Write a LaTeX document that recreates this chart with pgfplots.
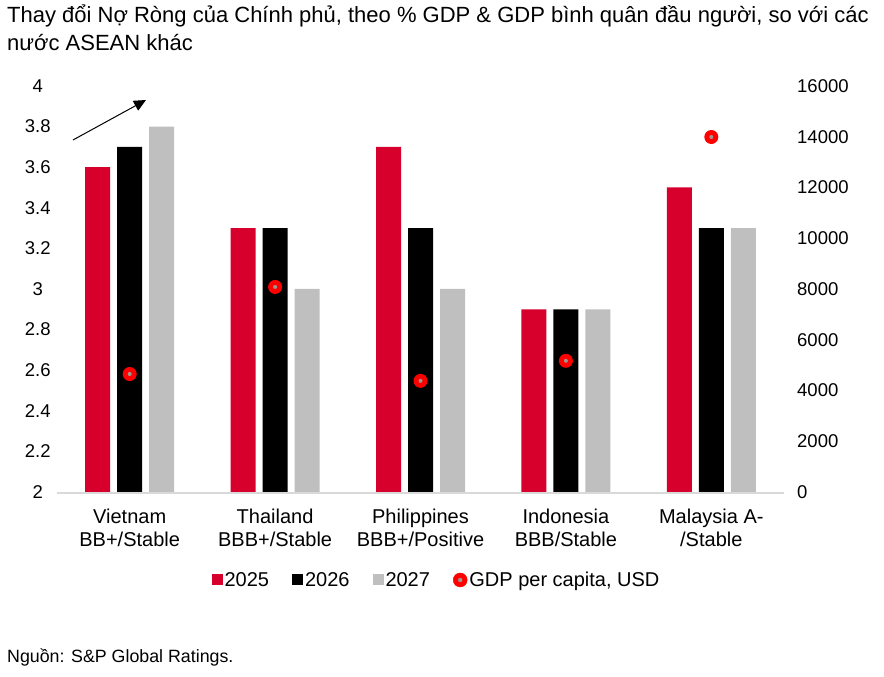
\documentclass[border=0pt]{standalone}
\usepackage{fontspec}
\setmainfont{Liberation Sans}
\usepackage{pgfplots}
\pgfplotsset{compat=1.18}
\usetikzlibrary{arrows.meta}

\definecolor{barRed}{RGB}{215,0,45}
\definecolor{barGray}{RGB}{191,191,191}
\definecolor{axGray}{RGB}{217,217,217}
\definecolor{dotRed}{RGB}{255,0,0}
\definecolor{dotCore}{RGB}{160,150,140}

\newcommand{\chartfont}{\fontsize{18.5}{23}\selectfont}
\newcommand{\catfont}{\fontsize{20}{23}\selectfont}
\newcommand{\titlefont}{\fontsize{22}{28}\selectfont}

% red dot with a small grey core, as in the source chart
\pgfdeclareplotmark{gdpdot}{%
  \pgfsetfillcolor{dotRed}\pgfpathcircle{\pgfpointorigin}{7pt}\pgfusepath{fill}%
  \pgfsetfillcolor{dotCore}\pgfpathcircle{\pgfpointorigin}{2pt}\pgfusepath{fill}}

\begin{document}
\begin{tikzpicture}
\path (0,0) rectangle (884pt,677pt);

\pgfplotsset{
  base/.style={
    at={(57pt,185pt)}, anchor=south west,
    width=727pt, height=406pt, scale only axis,
    xmin=-0.5, xmax=4.5,
    major tick length=0pt,
    tick label style={font=\chartfont},
    /pgf/number format/assume math mode=true,
    /pgf/number format/1000 sep={},
    scaled y ticks=false,
    clip=false,
  }
}

%------------------------------------------------
% bars, left axis
%------------------------------------------------
\begin{axis}[
    base,
    ymin=2, ymax=4,
    ytick={2,2.2,2.4,2.6,2.8,3,3.2,3.4,3.6,3.8,4},
    yticklabel style={text width=32pt, align=center, inner sep=0pt, xshift=-3pt},
    xtick={0,1,2,3,4},
    xticklabels={{Vietnam\\BB+/Stable},{Thailand\\BBB+/Stable},{Philippines\\BBB+/Positive},{Indonesia\\BBB/Stable},{Malaysia A-\\/Stable}},
    xticklabel style={font=\catfont, align=center, inner sep=0pt, yshift=-17pt},
    axis line style={draw=none},
    ybar=7pt, bar width=25pt,
    legend columns=4,
    legend style={at={(0.522,-0.2167)}, anchor=center, draw=none, fill=none,
      font=\catfont, inner sep=0pt,
      /tikz/every even column/.append style={column sep=21pt}},
    legend cell align=left,
]
\addplot[fill=barRed, draw=none,
  legend image code/.code={\fill[barRed] (0pt,-5.5pt) rectangle (11pt,5.5pt);}]
  coordinates {(0,3.6) (1,3.3) (2,3.7) (3,2.9) (4,3.5)};
\addplot[fill=black, draw=none,
  legend image code/.code={\fill[black] (0pt,-5.5pt) rectangle (11pt,5.5pt);}]
  coordinates {(0,3.7) (1,3.3) (2,3.3) (3,2.9) (4,3.3)};
\addplot[fill=barGray, draw=none,
  legend image code/.code={\fill[barGray] (0pt,-5.5pt) rectangle (11pt,5.5pt);}]
  coordinates {(0,3.8) (1,3.0) (2,3.0) (3,2.9) (4,3.3)};
\addlegendimage{legend image code/.code={%
  \fill[dotRed] (7pt,0pt) circle (7pt); \fill[dotCore] (7pt,0pt) circle (2pt);}}
\legend{2025,2026,2027,GDP per capita{,} USD}

\draw[axGray, line width=2pt] ([yshift=-1pt]rel axis cs:0,0) -- ([yshift=-1pt]rel axis cs:1,0);
\draw[line width=1pt, -{Triangle[length=12pt,width=11pt]}]
  (axis cs:-0.39,3.734) -- (axis cs:0.112,3.931);
\end{axis}

%------------------------------------------------
% GDP per capita, right axis
%------------------------------------------------
\begin{axis}[
    base,
    ymin=0, ymax=16000,
    axis y line*=right,
    axis x line=none,
    y axis line style={draw=none},
    ytick={0,2000,4000,6000,8000,10000,12000,14000,16000},
    yticklabel style={text width=52pt, align=left, inner sep=0pt, xshift=13pt},
]
\addplot[only marks, mark=gdpdot]
  coordinates {(0,4650) (1,8080) (2,4380) (3,5170) (4,13990)};
\end{axis}

\node[anchor=base west, inner sep=0pt, font=\titlefont] at (7pt,654pt)
  {Thay đổi Nợ Ròng của Chính phủ, theo \% GDP \& GDP bình quân đầu người, so với các};
\node[anchor=base west, inner sep=0pt, font=\titlefont] at (7pt,626pt)
  {nước ASEAN khác};
\node[anchor=base west, inner sep=0pt, font=\fontsize{17.8}{21}\selectfont] at (7pt,14.6pt)
  {Nguồn: S\&P Global Ratings.};
\end{tikzpicture}
\end{document}
